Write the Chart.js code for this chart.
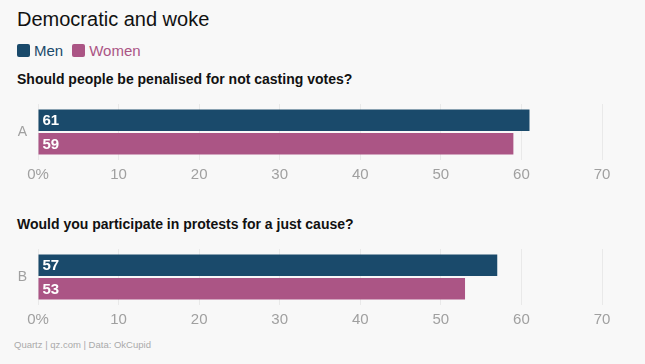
<!DOCTYPE html>
<html lang="en">
<head>
<meta charset="UTF-8">
<title>Democratic and woke</title>
<script src="https://cdn.jsdelivr.net/npm/chart.js@4.4.1/dist/chart.umd.min.js"></script>
<style>
  * { box-sizing: border-box; margin: 0; padding: 0; }
  body { width: 645px; height: 364px; background: #f8f8f8; font-family: "Liberation Sans", Arial, sans-serif; position: relative; overflow: hidden; }
  h1 { position: absolute; left: 17px; top: 8px; font-size: 20px; font-weight: 400; color: #111; }
  .legend { position: absolute; left: 17px; top: 42px; display: flex; gap: 9px; font-size: 15px; }
  .legend span { display: flex; align-items: center; }
  .legend i { display: inline-block; width: 13px; height: 13px; border-radius: 2px; margin-right: 4px; }
  .sub { position: absolute; left: 17px; font-size: 14px; font-weight: 700; color: #111; }
  .wrap { position: absolute; left: 0; width: 645px; height: 92px; }
  .foot { position: absolute; left: 14px; top: 339px; font-size: 9.5px; color: #aaa; }
</style>
</head>
<body>

<h1>Democratic and woke</h1>
<div class="legend">
  <span style="color:#1a4a6b"><i style="background:#1a4a6b"></i>Men</span>
  <span style="color:#ab5585"><i style="background:#ab5585"></i>Women</span>
</div>

<p class="sub" style="top:71px">Should people be penalised for not casting votes?</p>
<div class="wrap" style="top:96px"><canvas id="chartA"></canvas></div>

<p class="sub" style="top:216px">Would you participate in protests for a just cause?</p>
<div class="wrap" style="top:241px"><canvas id="chartB"></canvas></div>

<p class="foot">Quartz | qz.com | Data: OkCupid</p>

<script>
const seriesNames = ['Men', 'Women'];
const seriesColors = ['#1a4a6b', '#ab5585'];
const tickValues = [0, 10, 20, 30, 40, 50, 60, 70];

const labelsA = ['A'];
const menA = [61];
const womenA = [59];

const labelsB = ['B'];
const menB = [57];
const womenB = [53];

// white value labels inside the left end of each bar
const valueLabels = {
  id: 'valueLabels',
  afterDatasetsDraw(chart) {
    const ctx = chart.ctx;
    ctx.save();
    ctx.fillStyle = '#fff';
    ctx.font = '600 15px "Liberation Sans", Arial, sans-serif';
    ctx.textBaseline = 'middle';
    chart.data.datasets.forEach((ds, i) => {
      chart.getDatasetMeta(i).data.forEach((bar, j) => {
        ctx.fillText(ds.data[j], bar.base + 4, bar.y + 1);
      });
    });
    ctx.restore();
  }
};

function makeChart(id, labels, men, women) {
  return new Chart(document.getElementById(id), {
    type: 'bar',
    data: {
      labels: labels,
      datasets: [
        { label: seriesNames[0], data: men, backgroundColor: seriesColors[0] },
        { label: seriesNames[1], data: women, backgroundColor: seriesColors[1] }
      ]
    },
    options: {
      indexAxis: 'y',
      responsive: true, maintainAspectRatio: false,
      animation: false,
      categoryPercentage: 0.84,
      barPercentage: 0.915,
      layout: { padding: { top: 8, right: 43, bottom: 0, left: 0 } },
      plugins: { legend: { display: false }, tooltip: { enabled: false } },
      scales: {
        x: {
          min: 0, max: 70,
          afterBuildTicks: s => { s.ticks = tickValues.map(v => ({ value: v })); },
          afterFit: s => { s.height = 28; },
          ticks: {
            color: '#a0a0a0', padding: 6,
            font: { size: 15, family: '"Liberation Sans", Arial, sans-serif' },
            callback: v => v === 0 ? '0%' : v
          },
          grid: { color: '#e9e9e9', drawTicks: false },
          border: { display: false }
        },
        y: {
          afterFit: s => { s.width = 38; s.paddingTop = 0; s.paddingBottom = 0; },
          ticks: { color: '#a0a0a0', padding: 11, font: { size: 14, family: '"Liberation Sans", Arial, sans-serif' } },
          grid: { display: false, drawTicks: false },
          border: { display: false }
        }
      }
    },
    plugins: [valueLabels]
  });
}

makeChart('chartA', labelsA, menA, womenA);
makeChart('chartB', labelsB, menB, womenB);
</script>
</body>
</html>
